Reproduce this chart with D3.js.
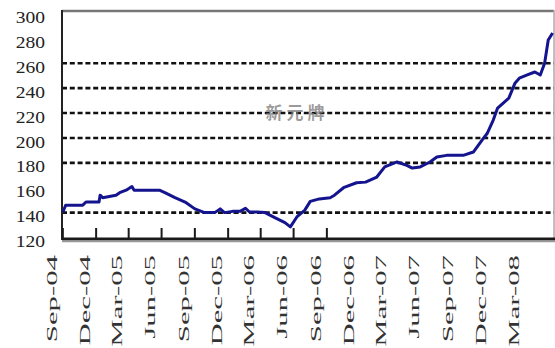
<!DOCTYPE html>
<html>
<head>
<meta charset="utf-8">
<script src="https://cdn.jsdelivr.net/npm/d3@7"></script>
<style>
  html, body { margin: 0; padding: 0; background: #fff; }
  svg { display: block; }
</style>
</head>
<body>
<svg id="chart" width="555" height="348"></svg>
<script>
// Price index, observations through Jun 2008
const dates = [
  "2004-10-01","2004-10-09","2004-11-25","2004-12-04","2005-01-09","2005-01-12",
  "2005-01-19","2005-02-25","2005-03-07","2005-03-25","2005-04-10","2005-04-16",
  "2005-06-25","2005-07-10","2005-08-07","2005-09-04","2005-10-01","2005-10-28",
  "2005-11-25","2005-12-10","2005-12-22","2006-01-13","2006-02-03","2006-02-18",
  "2006-03-01","2006-03-22","2006-04-13","2006-05-10","2006-06-07","2006-06-22",
  "2006-07-10","2006-08-01","2006-08-16","2006-09-10","2006-10-10","2006-10-22",
  "2006-11-16","2006-12-22","2007-01-16","2007-02-16","2007-03-10","2007-04-13",
  "2007-05-10","2007-05-25","2007-06-16","2007-07-13","2007-08-01","2007-08-28",
  "2007-10-13","2007-11-10","2007-12-04","2007-12-19","2008-01-04","2008-01-16",
  "2008-02-16","2008-03-04","2008-03-16","2008-04-07","2008-04-28","2008-05-13",
  "2008-05-25","2008-06-04","2008-06-16"
];
const values = [
  140.5, 146, 146, 148.5, 148.5, 154,
  152, 154, 156, 158, 161, 158,
  158, 156, 152, 148.5, 143, 140,
  140, 143, 140, 141, 141, 143.5,
  140.5, 140.5, 140, 136, 132, 128.5,
  136.5, 142, 149, 151, 152, 154,
  160, 164, 164.5, 168.6, 176.7, 180.7,
  178, 175.8, 176.7, 180.7, 184.7, 186,
  186, 188.7, 198.3, 204, 214.4, 224,
  232, 244, 248, 250.6, 253, 250.6,
  260, 278.7, 284.3
];

// Category labels along the time axis
const labelDates = [
  "2004-09-01","2004-12-01","2005-03-01","2005-06-01","2005-09-01","2005-12-01",
  "2006-03-01","2006-06-01","2006-09-01","2006-12-01","2007-03-01","2007-06-01",
  "2007-09-01","2007-12-01","2008-03-01"
];
const labelTexts = [
  "Sep-04","Dec-04","Mar-05","Jun-05","Sep-05","Dec-05",
  "Mar-06","Jun-06","Sep-06","Dec-06","Mar-07","Jun-07",
  "Sep-07","Dec-07","Mar-08"
];
// Quarter boundaries carrying tick marks
const tickDates = [
  "2004-10-01","2005-01-01","2005-04-01","2005-07-01","2005-10-01",
  "2006-01-01","2006-04-01","2006-07-01","2006-10-01"
];

const yTicks = [120, 140, 160, 180, 200, 220, 240, 260, 280, 300];
const gridValues = [140, 180, 200, 220, 240, 260];
const watermark = "新元牌";

const parse = d3.utcParse("%Y-%m-%d");
const series = dates.map((d, i) => ({ date: parse(d), value: values[i] }));

const svg = d3.select("#chart");
const plot = { left: 62, right: 554, top: 10, bottom: 238 };

const x = d3.scaleUtc()
  .domain([parse("2004-09-01"), parse("2008-07-01")])
  .range([52, 558]);
const y = d3.scaleLinear()
  .domain([120, 300])
  .range([237.5, 13.5]);

svg.append("clipPath").attr("id", "plotClip")
  .append("rect")
  .attr("x", plot.left).attr("y", plot.top)
  .attr("width", plot.right - plot.left).attr("height", plot.bottom - plot.top);

// dashed horizontal gridlines
svg.append("g").selectAll("line")
  .data(gridValues)
  .join("line")
  .attr("x1", plot.left).attr("x2", plot.right)
  .attr("y1", d => y(d)).attr("y2", d => y(d))
  .attr("stroke", "#111")
  .attr("stroke-width", 2.6)
  .attr("stroke-dasharray", "5,2.8");

// watermark
svg.append("text")
  .attr("x", 297).attr("y", y(220) + 6)
  .attr("text-anchor", "middle")
  .attr("font-family", "'Noto Sans CJK SC', sans-serif")
  .attr("font-size", 17)
  .attr("font-weight", "bold")
  .attr("letter-spacing", 4)
  .attr("fill", "#7a7a7a")
  .attr("fill-opacity", 0.75)
  .text(watermark);

// frame
svg.append("line")
  .attr("x1", plot.left).attr("x2", plot.right)
  .attr("y1", plot.top + 1).attr("y2", plot.top + 1)
  .attr("stroke", "#777").attr("stroke-width", 2.5);
svg.append("line")
  .attr("x1", plot.right).attr("x2", plot.right)
  .attr("y1", plot.top).attr("y2", plot.bottom)
  .attr("stroke", "#aaa").attr("stroke-width", 1.5);
svg.append("line")
  .attr("x1", plot.left).attr("x2", plot.left)
  .attr("y1", plot.top).attr("y2", plot.bottom + 2)
  .attr("stroke", "#222").attr("stroke-width", 2);

// data line
const line = d3.line()
  .x(d => x(d.date))
  .y(d => y(d.value));
svg.append("path")
  .datum(series)
  .attr("clip-path", "url(#plotClip)")
  .attr("fill", "none")
  .attr("stroke", "#14148f")
  .attr("stroke-width", 3)
  .attr("stroke-linejoin", "round")
  .attr("d", line);

// bottom axis with inward ticks
svg.append("line")
  .attr("x1", plot.left).attr("x2", plot.right + 1)
  .attr("y1", plot.bottom + 1).attr("y2", plot.bottom + 1)
  .attr("stroke", "#1a1a1a").attr("stroke-width", 3);
svg.append("line")
  .attr("x1", plot.left).attr("x2", plot.right + 1)
  .attr("y1", plot.bottom + 3.5).attr("y2", plot.bottom + 3.5)
  .attr("stroke", "#999").attr("stroke-width", 1.5);
svg.append("g").selectAll("line")
  .data(tickDates.map(parse))
  .join("line")
  .attr("x1", d => x(d)).attr("x2", d => x(d))
  .attr("y1", plot.bottom - 10).attr("y2", plot.bottom)
  .attr("stroke", "#1a1a1a").attr("stroke-width", 2);

// rotated date labels
svg.append("g").selectAll("text")
  .data(labelDates.map((d, i) => ({ date: parse(d), text: labelTexts[i] })))
  .join("text")
  .attr("transform", d => `translate(${x(d.date)},255) rotate(-90) scale(2.2,1)`)
  .attr("text-anchor", "end")
  .attr("dominant-baseline", "central")
  .attr("font-family", "'Liberation Serif', serif")
  .attr("font-size", 14)
  .attr("fill", "#333")
  .text(d => d.text);

// value labels
svg.append("g").selectAll("text")
  .data(yTicks)
  .join("text")
  .attr("transform", d => `translate(45,${y(d) + 4}) scale(1.15,1)`)
  .attr("text-anchor", "end")
  .attr("dominant-baseline", "central")
  .attr("font-family", "'Liberation Serif', serif")
  .attr("font-size", 17)
  .attr("fill", "#222")
  .text(d => d);
</script>
</body>
</html>
